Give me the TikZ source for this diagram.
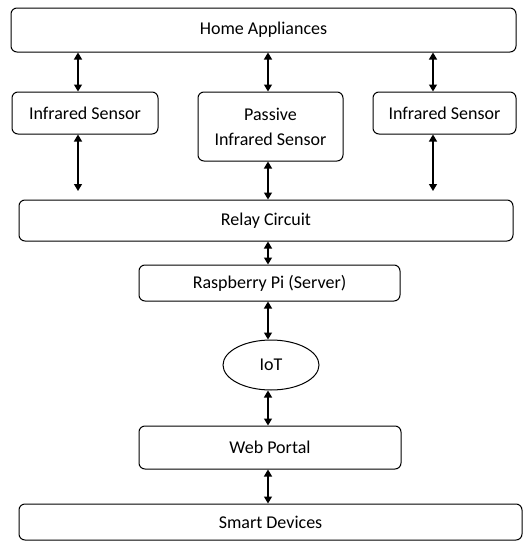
\documentclass[tikz,border=0pt]{standalone}
\usepackage{fontspec}
\setmainfont{Carlito}
\usetikzlibrary{arrows.meta,shapes.geometric}
\begin{document}
\begin{tikzpicture}[x=1pt,y=-1pt,
  font=\fontsize{18}{25}\selectfont,
  box/.style={draw, line width=1pt, rounded corners=6pt, inner sep=0pt, align=center},
  oval/.style={draw, ellipse, line width=1pt, inner sep=0pt},
  arr/.style={{Triangle[width=8pt,length=7pt]}-{Triangle[width=8pt,length=7pt]}, line width=1.3pt}]
\useasboundingbox (0,0) rectangle (523,541);
\node[box, minimum width=505pt, minimum height=44pt] (ha) at (263.5,30) {Home Appliances};
\node[box, minimum width=146pt, minimum height=42pt] (ir1) at (85,113) {Infrared Sensor};
\node[box, minimum width=145pt, minimum height=69pt] (pir) at (270.5,126.5) {Passive\\Infrared Sensor};
\node[box, minimum width=143pt, minimum height=42pt] (ir2) at (444.5,113) {Infrared Sensor};
\node[box, minimum width=494pt, minimum height=41pt] (rc) at (266,220.5) {Relay Circuit};
\node[box, minimum width=261pt, minimum height=36pt] (rp) at (269.5,283) {Raspberry Pi (Server)};
\node[oval, minimum width=96pt, minimum height=50pt] (iot) at (271,365) {IoT};
\node[box, minimum width=262pt, minimum height=43pt] (wp) at (270,447.5) {Web Portal};
\node[box, minimum width=503pt, minimum height=36pt] (sd) at (270.5,522) {Smart Devices};
\coordinate (xl) at (78,0);
\coordinate (xm) at (268,0);
\coordinate (xr) at (433,0);
\coordinate (el) at (78,191);
\coordinate (er) at (433,191);
\draw[arr] (ha.south -| xl) -- (ir1.north -| xl);
\draw[arr] (ha.south -| xm) -- (pir.north -| xm);
\draw[arr] (ha.south -| xr) -- (ir2.north -| xr);
\draw[arr] (ir1.south -| xl) -- (el);
\draw[arr] (pir.south -| xm) -- (rc.north -| xm);
\draw[arr] (ir2.south -| xr) -- (er);
\draw[arr] (rc.south -| xm) -- (rp.north -| xm);
\draw[arr] (rp.south -| xm) -- (iot.north -| xm);
\draw[arr] (iot.south -| xm) -- (wp.north -| xm);
\draw[arr] (wp.south -| xm) -- (sd.north -| xm);
\end{tikzpicture}
\end{document}
